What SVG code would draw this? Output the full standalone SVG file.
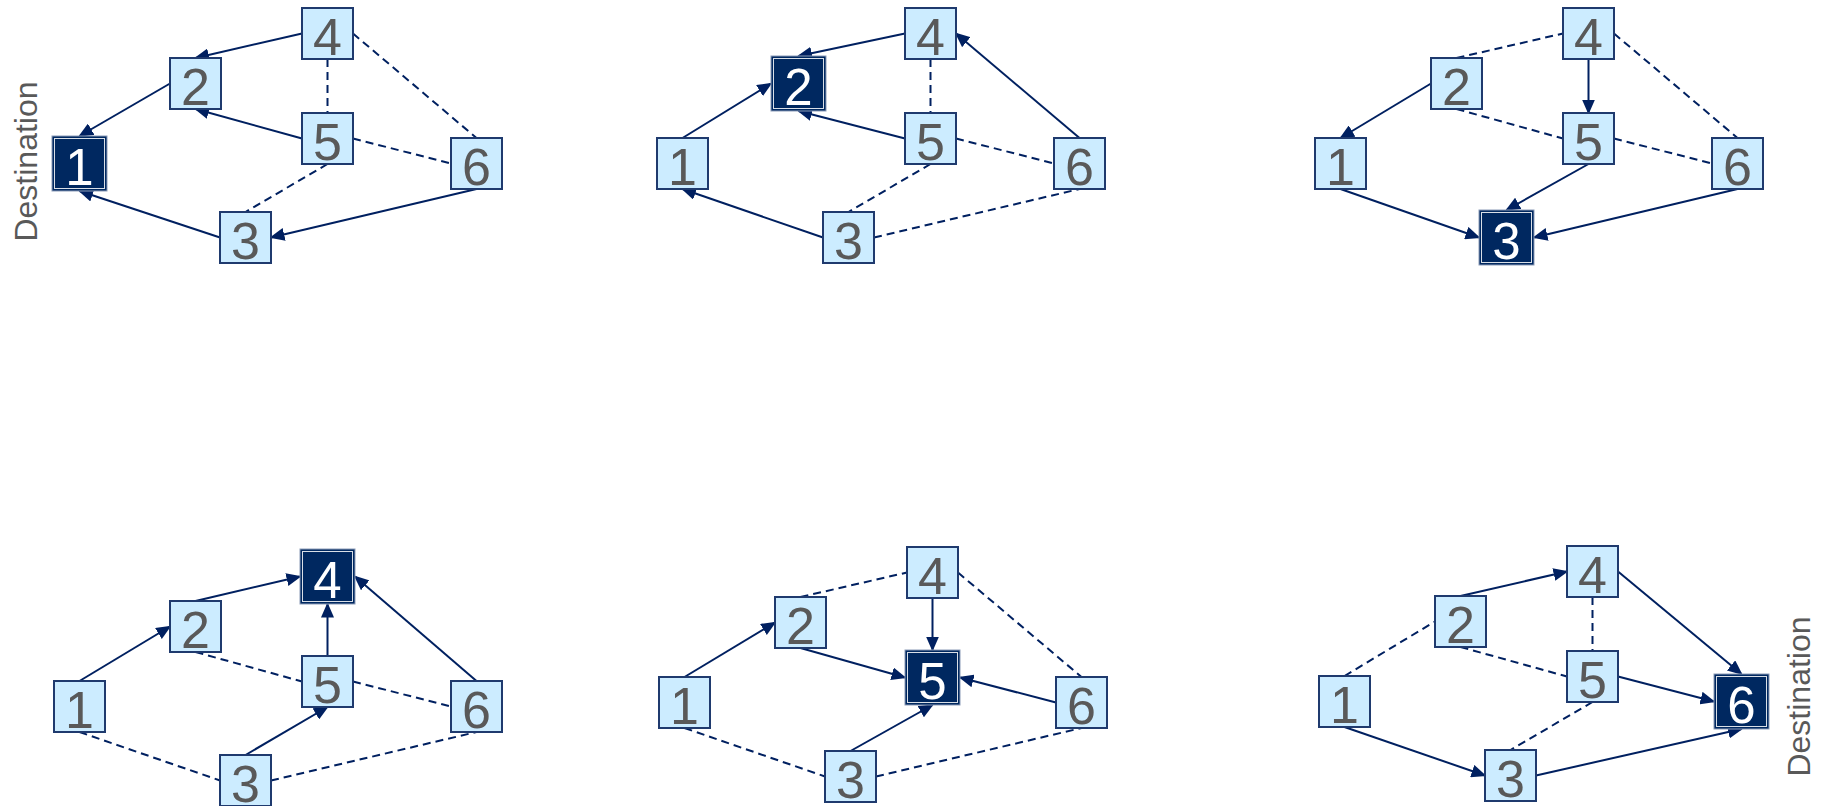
<svg xmlns="http://www.w3.org/2000/svg" width="1821" height="806" viewBox="0 0 1821 806">
<style>
.box{fill:#CCECFF;stroke:#1F3A6E;stroke-width:2}
.dbox{fill:#002860;stroke:#8B9BB8;stroke-width:1}
.dinner{fill:none;stroke:#FFFFFF;stroke-width:1;opacity:0.85}
.lbl{font-family:"Liberation Sans",Arial,sans-serif;font-size:52px;fill:#595959;text-anchor:middle}
.dlbl{font-family:"Liberation Sans",Arial,sans-serif;font-size:51px;fill:#FFFFFF;text-anchor:middle}
.dest{font-family:"Liberation Sans",Arial,sans-serif;font-size:32px;fill:#595959;text-anchor:middle}
.s{stroke:#002060;stroke-width:2;fill:none;marker-end:url(#ah)}
.d{stroke:#002060;stroke-width:2;fill:none;stroke-dasharray:8 5}
</style>
<defs>
<marker id="ah" markerUnits="userSpaceOnUse" markerWidth="15" markerHeight="13" viewBox="0 0 15 13" refX="13.5" refY="6.5" orient="auto">
<path d="M0,0 L15,6.5 L0,13 z" fill="#002060"/>
</marker>
</defs>
<rect width="1821" height="806" fill="#FFFFFF"/>

<g id="connectors">
<g id="c1" transform="translate(54,138)">
<line class="s" x1="248" y1="-104.5" x2="141.5" y2="-80"/>
<line class="s" x1="116" y1="-54.5" x2="25.5" y2="-2"/>
<line class="s" x1="248" y1="0.5" x2="141.5" y2="-29"/>
<line class="s" x1="166" y1="99.5" x2="25.5" y2="53"/>
<line class="s" x1="422.5" y1="51" x2="217" y2="99.5"/>
<line class="d" x1="273.5" y1="-79" x2="273.5" y2="-25"/>
<line class="d" x1="299" y1="-104.5" x2="422.5" y2="0"/>
<line class="d" x1="299" y1="0.5" x2="397" y2="25.5"/>
<line class="d" x1="273.5" y1="26" x2="191.5" y2="74"/>
</g>
<g id="c2" transform="translate(657,138)">
<line class="s" x1="248" y1="-104.5" x2="141.5" y2="-82"/>
<line class="s" x1="25.5" y1="0" x2="114" y2="-54.5"/>
<line class="s" x1="248" y1="0.5" x2="141.5" y2="-27"/>
<line class="s" x1="166" y1="99.5" x2="25.5" y2="51"/>
<line class="s" x1="422.5" y1="0" x2="299" y2="-104.5"/>
<line class="d" x1="273.5" y1="-79" x2="273.5" y2="-25"/>
<line class="d" x1="299" y1="0.5" x2="397" y2="25.5"/>
<line class="d" x1="273.5" y1="26" x2="191.5" y2="74"/>
<line class="d" x1="217" y1="99.5" x2="422.5" y2="51"/>
</g>
<g id="c3" transform="translate(1315,138)">
<line class="d" x1="141.5" y1="-80" x2="248" y2="-104.5"/>
<line class="s" x1="273.5" y1="-79" x2="273.5" y2="-25"/>
<line class="d" x1="299" y1="-104.5" x2="422.5" y2="0"/>
<line class="s" x1="116" y1="-54.5" x2="25.5" y2="0"/>
<line class="d" x1="141.5" y1="-29" x2="248" y2="0.5"/>
<line class="d" x1="299" y1="0.5" x2="397" y2="25.5"/>
<line class="s" x1="25.5" y1="51" x2="164" y2="99.5"/>
<line class="s" x1="273.5" y1="26" x2="191.5" y2="72"/>
<line class="s" x1="422.5" y1="51" x2="219" y2="99.5"/>
</g>
<g id="c4" transform="translate(54,681)">
<line class="s" x1="141.5" y1="-80" x2="246" y2="-104.5"/>
<line class="s" x1="25.5" y1="0" x2="116" y2="-54.5"/>
<line class="s" x1="273.5" y1="-25" x2="273.5" y2="-77"/>
<line class="s" x1="422.5" y1="0" x2="301" y2="-104.5"/>
<line class="d" x1="141.5" y1="-29" x2="248" y2="0.5"/>
<line class="d" x1="299" y1="0.5" x2="397" y2="25.5"/>
<line class="s" x1="191.5" y1="74" x2="273.5" y2="26"/>
<line class="d" x1="25.5" y1="51" x2="166" y2="99.5"/>
<line class="d" x1="217" y1="99.5" x2="422.5" y2="51"/>
</g>
<g id="c5" transform="translate(659,677)">
<line class="d" x1="141.5" y1="-80" x2="248" y2="-104.5"/>
<line class="s" x1="273.5" y1="-79" x2="273.5" y2="-27"/>
<line class="d" x1="299" y1="-104.5" x2="422.5" y2="0"/>
<line class="s" x1="25.5" y1="0" x2="116" y2="-54.5"/>
<line class="s" x1="141.5" y1="-29" x2="246" y2="0.5"/>
<line class="s" x1="397" y1="25.5" x2="301" y2="0.5"/>
<line class="s" x1="191.5" y1="74" x2="273.5" y2="28"/>
<line class="d" x1="25.5" y1="51" x2="166" y2="99.5"/>
<line class="d" x1="217" y1="99.5" x2="422.5" y2="51"/>
</g>
<g id="c6" transform="translate(1319,676)">
<line class="s" x1="141.5" y1="-80" x2="248" y2="-104.5"/>
<line class="d" x1="273.5" y1="-79" x2="273.5" y2="-25"/>
<line class="s" x1="299" y1="-104.5" x2="422.5" y2="-2"/>
<line class="d" x1="25.5" y1="0" x2="116" y2="-54.5"/>
<line class="d" x1="141.5" y1="-29" x2="248" y2="0.5"/>
<line class="s" x1="299" y1="0.5" x2="395" y2="25.5"/>
<line class="d" x1="273.5" y1="26" x2="191.5" y2="74"/>
<line class="s" x1="25.5" y1="51" x2="166" y2="99.5"/>
<line class="s" x1="217" y1="99.5" x2="422.5" y2="53"/>
</g>
</g>

<!-- Graph 1 -->
<g id="graph1" transform="translate(54,138)">
<g id="g1-n1"><rect class="dbox" x="-2" y="-2" width="55" height="55"/><rect class="dinner" x="0.5" y="0.5" width="50" height="50"/><text class="dlbl" x="25.5" y="46.5">1</text></g>
<g id="g1-n2"><rect class="box" x="116" y="-80" width="51" height="51"/><text class="lbl" x="141.5" y="-33">2</text></g>
<g id="g1-n3"><rect class="box" x="166" y="74" width="51" height="51"/><text class="lbl" x="191.5" y="121">3</text></g>
<g id="g1-n4"><rect class="box" x="248" y="-130" width="51" height="51"/><text class="lbl" x="273.5" y="-83">4</text></g>
<g id="g1-n5"><rect class="box" x="248" y="-25" width="51" height="51"/><text class="lbl" x="273.5" y="22">5</text></g>
<g id="g1-n6"><rect class="box" x="397" y="0" width="51" height="51"/><text class="lbl" x="422.5" y="47">6</text></g>
</g>

<!-- Graph 2 -->
<g id="graph2" transform="translate(657,138)">
<g id="g2-n1"><rect class="box" x="0" y="0" width="51" height="51"/><text class="lbl" x="25.5" y="47">1</text></g>
<g id="g2-n2"><rect class="dbox" x="114" y="-82" width="55" height="55"/><rect class="dinner" x="116.5" y="-79.5" width="50" height="50"/><text class="dlbl" x="141.5" y="-33.5">2</text></g>
<g id="g2-n3"><rect class="box" x="166" y="74" width="51" height="51"/><text class="lbl" x="191.5" y="121">3</text></g>
<g id="g2-n4"><rect class="box" x="248" y="-130" width="51" height="51"/><text class="lbl" x="273.5" y="-83">4</text></g>
<g id="g2-n5"><rect class="box" x="248" y="-25" width="51" height="51"/><text class="lbl" x="273.5" y="22">5</text></g>
<g id="g2-n6"><rect class="box" x="397" y="0" width="51" height="51"/><text class="lbl" x="422.5" y="47">6</text></g>
</g>

<!-- Graph 3 -->
<g id="graph3" transform="translate(1315,138)">
<g id="g3-n1"><rect class="box" x="0" y="0" width="51" height="51"/><text class="lbl" x="25.5" y="47">1</text></g>
<g id="g3-n2"><rect class="box" x="116" y="-80" width="51" height="51"/><text class="lbl" x="141.5" y="-33">2</text></g>
<g id="g3-n3"><rect class="dbox" x="164" y="72" width="55" height="55"/><rect class="dinner" x="166.5" y="74.5" width="50" height="50"/><text class="dlbl" x="191.5" y="120.5">3</text></g>
<g id="g3-n4"><rect class="box" x="248" y="-130" width="51" height="51"/><text class="lbl" x="273.5" y="-83">4</text></g>
<g id="g3-n5"><rect class="box" x="248" y="-25" width="51" height="51"/><text class="lbl" x="273.5" y="22">5</text></g>
<g id="g3-n6"><rect class="box" x="397" y="0" width="51" height="51"/><text class="lbl" x="422.5" y="47">6</text></g>
</g>

<!-- Graph 4 -->
<g id="graph4" transform="translate(54,681)">
<g id="g4-n1"><rect class="box" x="0" y="0" width="51" height="51"/><text class="lbl" x="25.5" y="47">1</text></g>
<g id="g4-n2"><rect class="box" x="116" y="-80" width="51" height="51"/><text class="lbl" x="141.5" y="-33">2</text></g>
<g id="g4-n3"><rect class="box" x="166" y="74" width="51" height="51"/><text class="lbl" x="191.5" y="121">3</text></g>
<g id="g4-n4"><rect class="dbox" x="246" y="-132" width="55" height="55"/><rect class="dinner" x="248.5" y="-129.5" width="50" height="50"/><text class="dlbl" x="273.5" y="-83.5">4</text></g>
<g id="g4-n5"><rect class="box" x="248" y="-25" width="51" height="51"/><text class="lbl" x="273.5" y="22">5</text></g>
<g id="g4-n6"><rect class="box" x="397" y="0" width="51" height="51"/><text class="lbl" x="422.5" y="47">6</text></g>
</g>

<!-- Graph 5 -->
<g id="graph5" transform="translate(659,677)">
<g id="g5-n1"><rect class="box" x="0" y="0" width="51" height="51"/><text class="lbl" x="25.5" y="47">1</text></g>
<g id="g5-n2"><rect class="box" x="116" y="-80" width="51" height="51"/><text class="lbl" x="141.5" y="-33">2</text></g>
<g id="g5-n3"><rect class="box" x="166" y="74" width="51" height="51"/><text class="lbl" x="191.5" y="121">3</text></g>
<g id="g5-n4"><rect class="box" x="248" y="-130" width="51" height="51"/><text class="lbl" x="273.5" y="-83">4</text></g>
<g id="g5-n5"><rect class="dbox" x="246" y="-27" width="55" height="55"/><rect class="dinner" x="248.5" y="-24.5" width="50" height="50"/><text class="dlbl" x="273.5" y="21.5">5</text></g>
<g id="g5-n6"><rect class="box" x="397" y="0" width="51" height="51"/><text class="lbl" x="422.5" y="47">6</text></g>
</g>

<!-- Graph 6 -->
<g id="graph6" transform="translate(1319,676)">
<g id="g6-n1"><rect class="box" x="0" y="0" width="51" height="51"/><text class="lbl" x="25.5" y="47">1</text></g>
<g id="g6-n2"><rect class="box" x="116" y="-80" width="51" height="51"/><text class="lbl" x="141.5" y="-33">2</text></g>
<g id="g6-n3"><rect class="box" x="166" y="74" width="51" height="51"/><text class="lbl" x="191.5" y="121">3</text></g>
<g id="g6-n4"><rect class="box" x="248" y="-130" width="51" height="51"/><text class="lbl" x="273.5" y="-83">4</text></g>
<g id="g6-n5"><rect class="box" x="248" y="-25" width="51" height="51"/><text class="lbl" x="273.5" y="22">5</text></g>
<g id="g6-n6"><rect class="dbox" x="395" y="-2" width="55" height="55"/><rect class="dinner" x="397.5" y="0.5" width="50" height="50"/><text class="dlbl" x="422.5" y="46.5">6</text></g>
</g>

<text id="dest1" class="dest" transform="translate(37,161.5) rotate(-90)">Destination</text>
<text id="dest6" class="dest" transform="translate(1810,696.5) rotate(-90)">Destination</text>
</svg>
